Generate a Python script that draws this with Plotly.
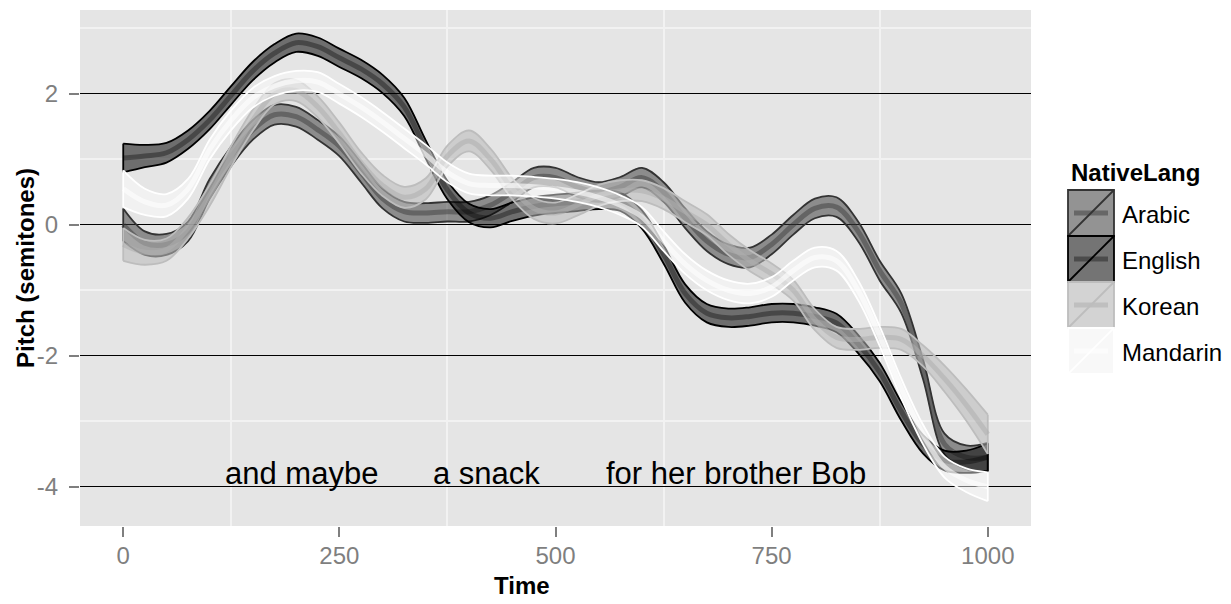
import plotly.graph_objects as go

# ---------------- data ----------------
time = [0, 25, 50, 75, 100, 125, 150, 175, 200, 225, 250, 275, 300, 325, 350, 375, 400,
        425, 450, 475, 500, 525, 550, 575, 600, 625, 650, 675, 700, 725, 750, 775, 800,
        825, 850, 875, 900, 925, 950, 975, 1000]

languages = ["Arabic", "English", "Korean", "Mandarin"]

arabic = [0.0, -0.28, -0.3, -0.1, 0.55, 1.05, 1.45, 1.68, 1.65, 1.45, 1.2, 0.8, 0.4,
          0.2, 0.18, 0.2, 0.2, 0.3, 0.5, 0.72, 0.72, 0.58, 0.5, 0.58, 0.72, 0.5, 0.1,
          -0.25, -0.45, -0.5, -0.3, 0.0, 0.25, 0.27, -0.1, -0.7, -1.2, -2.2, -3.35,
          -3.55, -3.55]
english = [1.02, 1.05, 1.1, 1.3, 1.6, 1.98, 2.35, 2.62, 2.78, 2.72, 2.55, 2.38, 2.15,
           1.8, 1.15, 0.53, 0.18, 0.1, 0.2, 0.28, 0.32, 0.35, 0.38, 0.35, 0.08, -0.45,
           -1.05, -1.35, -1.42, -1.4, -1.35, -1.35, -1.4, -1.5, -1.82, -2.25, -2.85,
           -3.35, -3.6, -3.62, -3.55]
korean = [-0.3, -0.42, -0.38, -0.05, 0.45, 1.05, 1.6, 2.0, 2.05, 1.8, 1.4, 0.95, 0.6,
          0.42, 0.55, 1.05, 1.28, 1.0, 0.55, 0.25, 0.18, 0.3, 0.45, 0.52, 0.52, 0.4,
          0.2, 0.0, -0.3, -0.55, -0.75, -1.0, -1.45, -1.72, -1.75, -1.72, -1.75, -2.0,
          -2.35, -2.75, -3.2]
mandarin = [0.55, 0.35, 0.3, 0.55, 1.15, 1.6, 1.94, 2.12, 2.2, 2.18, 2.0, 1.8, 1.57,
            1.32, 1.07, 0.8, 0.63, 0.6, 0.6, 0.58, 0.55, 0.5, 0.42, 0.3, 0.12, -0.25,
            -0.6, -0.85, -1.0, -1.05, -0.95, -0.7, -0.5, -0.55, -1.0, -1.7, -2.5, -3.2,
            -3.7, -3.9, -4.0]

# standard-error half widths of the smoothing ribbons
se_arabic = [0.25, 0.18, 0.16] + [0.15] * 35 + [0.16, 0.18, 0.22]
se_english = [0.22, 0.17, 0.15] + [0.14] * 35 + [0.15, 0.17, 0.21]
se_korean = [0.25, 0.19, 0.17] + [0.16] * 35 + [0.2, 0.24, 0.3]
se_mandarin = [0.28, 0.2, 0.17] + [0.15] * 35 + [0.16, 0.18, 0.22]

word_labels = ["and maybe", "a snack", "for her brother Bob"]
word_time = [206, 420, 709]
word_pitch = [-4, -4, -4]

x_ticks = [0, 250, 500, 750, 1000]
x_ticktext = ["0", "250", "500", "750", "1000"]
y_ticks = [-4, -2, 0, 2]
y_ticktext = ["-4", "-2", "0", "2"]

# ---------------- styles ----------------
centers = {"Arabic": arabic, "English": english, "Korean": korean, "Mandarin": mandarin}
ses = {"Arabic": se_arabic, "English": se_english, "Korean": se_korean, "Mandarin": se_mandarin}
style = {
    "Arabic": dict(border="#333333", fill="rgba(51,51,51,0.5)", center="rgba(51,51,51,0.45)"),
    "English": dict(border="#000000", fill="rgba(0,0,0,0.52)", center="rgba(0,0,0,0.35)"),
    "Korean": dict(border="#bdbdbd", fill="rgba(185,185,185,0.55)", center="rgba(175,175,175,0.55)"),
    "Mandarin": dict(border="#ffffff", fill="rgba(255,255,255,0.45)", center="rgba(255,255,255,0.6)"),
}

FONT = "Liberation Sans, Arial, Helvetica, sans-serif"

fig = go.Figure()
spl = dict(shape="spline", smoothing=1.0)

for lang in languages:
    c = centers[lang]
    s = ses[lang]
    lo = [a - b for a, b in zip(c, s)]
    up = [a + b for a, b in zip(c, s)]
    st = style[lang]
    fig.add_trace(go.Scatter(x=time, y=lo, mode="lines", line=dict(width=0, **spl),
                             showlegend=False, hoverinfo="skip"))
    fig.add_trace(go.Scatter(x=time, y=up, mode="lines", fill="tonexty", fillcolor=st["fill"],
                             line=dict(color=st["border"], width=1.8, **spl),
                             showlegend=False, hoverinfo="skip"))
    fig.add_trace(go.Scatter(x=time, y=lo, mode="lines",
                             line=dict(color=st["border"], width=1.8, **spl),
                             showlegend=False, hoverinfo="skip"))
    fig.add_trace(go.Scatter(x=[time[0], time[0], None, time[-1], time[-1]],
                             y=[lo[0], up[0], None, lo[-1], up[-1]], mode="lines",
                             line=dict(color=st["border"], width=1.8),
                             showlegend=False, hoverinfo="skip"))
    fig.add_trace(go.Scatter(x=time, y=c, mode="lines",
                             line=dict(color=st["center"], width=5, **spl),
                             name=lang, showlegend=False))

# ---------------- layout ----------------
W, H = 1231, 604
L, R, T, B = 80, 200, 10, 78
PW, PH = W - L - R, H - T - B


def px_x(px):
    return (px - L) / PW


def px_y(py):
    return (H - B - py) / PH


shapes = []
annotations = []

for lbl, tx, ty in zip(word_labels, word_time, word_pitch):
    annotations.append(dict(x=tx, y=ty, xref="x", yref="y", text=lbl, showarrow=False,
                            xanchor="center", yanchor="bottom", yshift=-6,
                            font=dict(family=FONT, size=31, color="black")))

# axis titles
annotations.append(dict(xref="paper", yref="paper", x=px_x(522), y=px_y(585),
                        xanchor="center", yanchor="middle", showarrow=False, text="<b>Time</b>",
                        font=dict(family=FONT, size=24, color="black")))
annotations.append(dict(xref="paper", yref="paper", x=px_x(25), y=px_y(268),
                        xanchor="center", yanchor="middle", showarrow=False, textangle=-90,
                        text="<b>Pitch (semitones)</b>",
                        font=dict(family=FONT, size=24, color="black")))

annotations.append(dict(xref="paper", yref="paper", x=px_x(1069), y=px_y(172),
                        xanchor="left", yanchor="middle", showarrow=False,
                        text="<b>NativeLang</b>",
                        font=dict(family=FONT, size=24, color="black")))
key = 46
for i, lang in enumerate(languages):
    st = style[lang]
    y0p = 190 + i * key
    y1p = y0p + key
    x0p, x1p = 1068, 1068 + key
    shapes.append(dict(type="rect", xref="paper", yref="paper", x0=px_x(x0p), x1=px_x(x1p),
                       y0=px_y(y1p), y1=px_y(y0p), fillcolor="#f2f2f2", line=dict(width=0),
                       layer="above"))
    shapes.append(dict(type="rect", xref="paper", yref="paper", x0=px_x(x0p), x1=px_x(x1p),
                       y0=px_y(y1p), y1=px_y(y0p), fillcolor=st["fill"],
                       line=dict(color=st["border"], width=1.8), layer="above"))
    shapes.append(dict(type="line", xref="paper", yref="paper", x0=px_x(x0p + 6), x1=px_x(x1p - 6),
                       y0=px_y(y0p + key / 2), y1=px_y(y0p + key / 2),
                       line=dict(color=st["center"], width=5), layer="above"))
    shapes.append(dict(type="line", xref="paper", yref="paper", x0=px_x(x0p), x1=px_x(x1p),
                       y0=px_y(y1p), y1=px_y(y0p),
                       line=dict(color=st["border"], width=1.8), layer="above"))
    annotations.append(dict(xref="paper", yref="paper", x=px_x(x1p + 6), y=px_y(y0p + key / 2 + 1),
                            xanchor="left", yanchor="middle", showarrow=False, text=lang,
                            font=dict(family=FONT, size=24, color="black")))

fig.update_layout(
    width=W, height=H,
    margin=dict(l=L, r=R, t=T, b=B),
    paper_bgcolor="white",
    plot_bgcolor="#e5e5e5",
    font=dict(family=FONT),
    shapes=shapes,
    annotations=annotations,
    xaxis=dict(
        range=[-50, 1050], tickmode="array", tickvals=x_ticks, ticktext=x_ticktext,
        ticks="outside", ticklen=10, tickwidth=2, tickcolor="#7f7f7f",
        tickfont=dict(family=FONT, size=24, color="#7f7f7f"), ticklabelstandoff=-2,
        showgrid=False, zeroline=False, showline=False,
        minor=dict(tickvals=[125, 375, 625, 875], showgrid=True, gridcolor="#f2f2f2",
                   gridwidth=1.5, ticks=""),
    ),
    yaxis=dict(
        range=[-4.6, 3.28], tickmode="array", tickvals=y_ticks, ticktext=y_ticktext,
        ticks="outside", ticklen=10, tickwidth=2, tickcolor="#7f7f7f",
        tickfont=dict(family=FONT, size=24, color="#7f7f7f"), ticklabelstandoff=6,
        showgrid=True, gridcolor="#000000", gridwidth=1.2, zeroline=False, showline=False,
        minor=dict(tickvals=[-3, -1, 1, 3], showgrid=True, gridcolor="#f2f2f2",
                   gridwidth=1.5, ticks=""),
    ),
)

fig.write_html("out.html")
